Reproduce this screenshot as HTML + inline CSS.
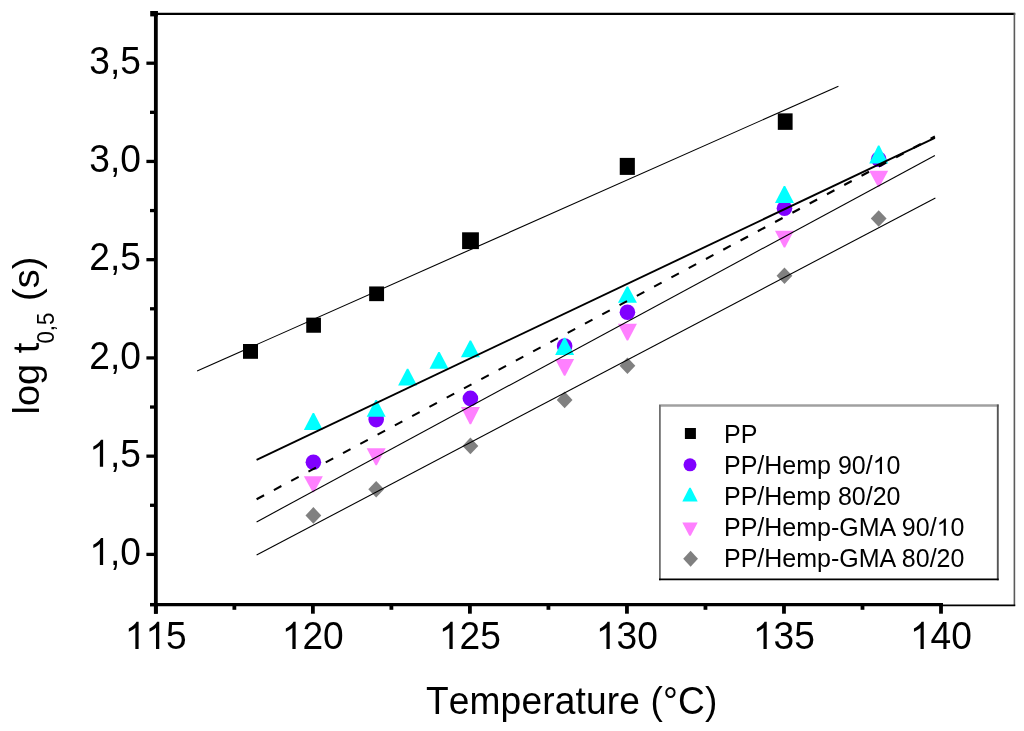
<!DOCTYPE html>
<html><head><meta charset="utf-8"><style>
html,body{margin:0;padding:0;background:#fff;}
svg{display:block;will-change:transform;}
text{font-family:"Liberation Sans",sans-serif;fill:#000;}
</style></head><body>
<svg width="1024" height="731" viewBox="0 0 1024 731">
<rect width="1024" height="731" fill="#fff"/>
<line x1="155" y1="13.8" x2="1015.2" y2="13.8" stroke="#000" stroke-width="2.2"/>
<line x1="1014.4" y1="13" x2="1014.4" y2="606" stroke="#5a5a5a" stroke-width="1.6"/>
<line x1="940" y1="605.4" x2="1015.2" y2="605.4" stroke="#000" stroke-width="1.6"/>
<line x1="155.85" y1="11" x2="155.85" y2="613.7" stroke="#000" stroke-width="3.8"/>
<line x1="150" y1="604.6" x2="943" y2="604.6" stroke="#000" stroke-width="3.4"/>
<line x1="150" y1="604.60" x2="156" y2="604.60" stroke="#000" stroke-width="3.3"/>
<line x1="146.4" y1="554.40" x2="156" y2="554.40" stroke="#000" stroke-width="3.3"/>
<line x1="150" y1="505.28" x2="156" y2="505.28" stroke="#000" stroke-width="3.3"/>
<line x1="146.4" y1="456.16" x2="156" y2="456.16" stroke="#000" stroke-width="3.3"/>
<line x1="150" y1="407.04" x2="156" y2="407.04" stroke="#000" stroke-width="3.3"/>
<line x1="146.4" y1="357.92" x2="156" y2="357.92" stroke="#000" stroke-width="3.3"/>
<line x1="150" y1="308.80" x2="156" y2="308.80" stroke="#000" stroke-width="3.3"/>
<line x1="146.4" y1="259.68" x2="156" y2="259.68" stroke="#000" stroke-width="3.3"/>
<line x1="150" y1="210.56" x2="156" y2="210.56" stroke="#000" stroke-width="3.3"/>
<line x1="146.4" y1="161.44" x2="156" y2="161.44" stroke="#000" stroke-width="3.3"/>
<line x1="150" y1="112.32" x2="156" y2="112.32" stroke="#000" stroke-width="3.3"/>
<line x1="146.4" y1="63.20" x2="156" y2="63.20" stroke="#000" stroke-width="3.3"/>
<rect x="150.2" y="11" width="7.6" height="5.4" fill="#000"/>
<line x1="155.85" y1="604" x2="155.85" y2="613.7" stroke="#000" stroke-width="3.8"/>
<line x1="234.37" y1="604" x2="234.37" y2="609.8" stroke="#000" stroke-width="3.8"/>
<line x1="312.88" y1="604" x2="312.88" y2="613.7" stroke="#000" stroke-width="3.8"/>
<line x1="391.39" y1="604" x2="391.39" y2="609.8" stroke="#000" stroke-width="3.8"/>
<line x1="469.91" y1="604" x2="469.91" y2="613.7" stroke="#000" stroke-width="3.8"/>
<line x1="548.42" y1="604" x2="548.42" y2="609.8" stroke="#000" stroke-width="3.8"/>
<line x1="626.94" y1="604" x2="626.94" y2="613.7" stroke="#000" stroke-width="3.8"/>
<line x1="705.46" y1="604" x2="705.46" y2="609.8" stroke="#000" stroke-width="3.8"/>
<line x1="783.97" y1="604" x2="783.97" y2="613.7" stroke="#000" stroke-width="3.8"/>
<line x1="862.49" y1="604" x2="862.49" y2="609.8" stroke="#000" stroke-width="3.8"/>
<line x1="941.00" y1="604" x2="941.00" y2="613.7" stroke="#000" stroke-width="3.8"/>
<text x="155.75" y="649.00" text-anchor="middle" style="font-size:39.5px;" transform="translate(155.75,649.00) scale(0.94,1.0) translate(-155.75,-649.00)" >  5</text>
<text x="312.78" y="649.00" text-anchor="middle" style="font-size:39.5px;" transform="translate(312.78,649.00) scale(0.94,1.0) translate(-312.78,-649.00)" > 20</text>
<text x="469.81" y="649.00" text-anchor="middle" style="font-size:39.5px;" transform="translate(469.81,649.00) scale(0.94,1.0) translate(-469.81,-649.00)" > 25</text>
<text x="626.84" y="649.00" text-anchor="middle" style="font-size:39.5px;" transform="translate(626.84,649.00) scale(0.94,1.0) translate(-626.84,-649.00)" > 30</text>
<text x="783.87" y="649.00" text-anchor="middle" style="font-size:39.5px;" transform="translate(783.87,649.00) scale(0.94,1.0) translate(-783.87,-649.00)" > 35</text>
<text x="940.90" y="649.00" text-anchor="middle" style="font-size:39.5px;" transform="translate(940.90,649.00) scale(0.94,1.0) translate(-940.90,-649.00)" > 40</text>
<text x="140.90" y="565.10" text-anchor="end" style="font-size:39.5px;" transform="translate(140.90,565.10) scale(0.94,1.0) translate(-140.90,-565.10)" > ,0</text>
<text x="140.90" y="466.86" text-anchor="end" style="font-size:39.5px;" transform="translate(140.90,466.86) scale(0.94,1.0) translate(-140.90,-466.86)" > ,5</text>
<text x="140.90" y="368.62" text-anchor="end" style="font-size:39.5px;" transform="translate(140.90,368.62) scale(0.94,1.0) translate(-140.90,-368.62)" >2,0</text>
<text x="140.90" y="270.38" text-anchor="end" style="font-size:39.5px;" transform="translate(140.90,270.38) scale(0.94,1.0) translate(-140.90,-270.38)" >2,5</text>
<text x="140.90" y="172.14" text-anchor="end" style="font-size:39.5px;" transform="translate(140.90,172.14) scale(0.94,1.0) translate(-140.90,-172.14)" >3,0</text>
<text x="140.90" y="73.90" text-anchor="end" style="font-size:39.5px;" transform="translate(140.90,73.90) scale(0.94,1.0) translate(-140.90,-73.90)" >3,5</text>
<rect x="243.00" y="344.00" width="15" height="14.8" fill="#000"/>
<rect x="306.25" y="317.65" width="14.7" height="15.1" fill="#000"/>
<rect x="369.15" y="286.45" width="14.9" height="14.7" fill="#000"/>
<rect x="462.10" y="232.30" width="16.8" height="16.8" fill="#000"/>
<rect x="619.75" y="157.90" width="15.1" height="17" fill="#000"/>
<rect x="777.80" y="113.35" width="14.8" height="16.5" fill="#000"/>
<circle cx="313.38" cy="462.20" r="7.8" fill="#8000ff"/>
<circle cx="376.19" cy="419.60" r="7.8" fill="#8000ff"/>
<circle cx="470.41" cy="398.40" r="7.8" fill="#8000ff"/>
<circle cx="564.63" cy="346.00" r="7.8" fill="#8000ff"/>
<circle cx="627.44" cy="312.20" r="7.8" fill="#8000ff"/>
<circle cx="784.47" cy="208.30" r="7.8" fill="#8000ff"/>
<circle cx="878.69" cy="159.20" r="7.8" fill="#8000ff"/>
<polygon points="312.68,413.00 314.08,413.00 322.88,430.00 303.88,430.00" fill="#00ffff"/>
<polygon points="375.49,399.90 376.89,399.90 385.69,416.80 366.69,416.80" fill="#00ffff"/>
<polygon points="406.90,368.70 408.30,368.70 417.10,385.60 398.10,385.60" fill="#00ffff"/>
<polygon points="438.30,351.90 439.70,351.90 448.50,368.70 429.50,368.70" fill="#00ffff"/>
<polygon points="469.71,340.60 471.11,340.60 479.91,357.20 460.91,357.20" fill="#00ffff"/>
<polygon points="563.93,337.80 565.33,337.80 574.13,355.00 555.13,355.00" fill="#00ffff"/>
<polygon points="626.74,286.40 628.14,286.40 636.94,302.80 617.94,302.80" fill="#00ffff"/>
<polygon points="783.77,185.90 785.17,185.90 793.97,203.00 774.97,203.00" fill="#00ffff"/>
<polygon points="877.99,145.50 879.39,145.50 888.19,163.60 869.19,163.60" fill="#00ffff"/>
<polygon points="303.88,476.20 322.88,476.20 314.08,492.20 312.68,492.20" fill="#ff80ff"/>
<polygon points="366.69,448.20 385.69,448.20 376.89,465.20 375.49,465.20" fill="#ff80ff"/>
<polygon points="460.91,407.00 479.91,407.00 471.11,424.20 469.71,424.20" fill="#ff80ff"/>
<polygon points="555.13,358.90 574.13,358.90 565.33,375.70 563.93,375.70" fill="#ff80ff"/>
<polygon points="617.94,323.80 636.94,323.80 628.14,340.40 626.74,340.40" fill="#ff80ff"/>
<polygon points="774.97,230.70 793.97,230.70 785.17,247.40 783.77,247.40" fill="#ff80ff"/>
<polygon points="869.19,170.80 888.19,170.80 879.39,187.00 877.99,187.00" fill="#ff80ff"/>
<polygon points="313.38,507.10 321.28,515.40 313.38,523.70 305.48,515.40" fill="#808080"/>
<polygon points="376.19,480.90 384.09,489.20 376.19,497.50 368.29,489.20" fill="#808080"/>
<polygon points="470.41,437.60 478.31,445.90 470.41,454.20 462.51,445.90" fill="#808080"/>
<polygon points="564.63,391.60 572.53,399.90 564.63,408.20 556.73,399.90" fill="#808080"/>
<polygon points="627.44,357.40 635.34,365.70 627.44,374.00 619.54,365.70" fill="#808080"/>
<polygon points="784.47,267.40 792.37,275.70 784.47,284.00 776.57,275.70" fill="#808080"/>
<polygon points="878.69,210.20 886.59,218.50 878.69,226.80 870.79,218.50" fill="#808080"/>
<line x1="197.1" y1="371" x2="838.4" y2="86.2" stroke="#000" stroke-width="1.1"/>
<line x1="256.6" y1="459.9" x2="934.9" y2="137.8" stroke="#000" stroke-width="1.9"/>
<line x1="256.6" y1="499.3" x2="934.9" y2="136.5" stroke="#000" stroke-width="2.1" stroke-dasharray="8.5 11.1"/>
<line x1="256.6" y1="521.9" x2="934.9" y2="155.4" stroke="#000" stroke-width="1.1"/>
<line x1="256.6" y1="555" x2="935.4" y2="197.9" stroke="#000" stroke-width="1.1"/>
<rect x="660" y="405.5" width="338" height="174" fill="#fff"/>
<line x1="659" y1="405.5" x2="998.7" y2="405.5" stroke="#a0a0a0" stroke-width="2.6"/>
<line x1="659.9" y1="405" x2="659.9" y2="580.3" stroke="#707070" stroke-width="1.8"/>
<line x1="997.8" y1="404.5" x2="997.8" y2="580.3" stroke="#555" stroke-width="1.9"/>
<line x1="659" y1="579.4" x2="998.7" y2="579.4" stroke="#000" stroke-width="1.7"/>
<rect x="684.90" y="428.00" width="11" height="11" fill="#000"/>
<circle cx="690.00" cy="464.80" r="6.5" fill="#8000ff"/>
<polygon points="689.30,487.80 690.70,487.80 697.70,501.40 682.30,501.40" fill="#00ffff"/>
<polygon points="682.30,522.60 697.70,522.60 690.70,535.80 689.30,535.80" fill="#ff80ff"/>
<polygon points="690.60,550.80 698.00,558.80 690.60,566.80 683.20,558.80" fill="#808080"/>
<text x="724.00" y="443.00" text-anchor="start" style="font-size:25px;" >PP</text>
<text x="724.00" y="473.90" text-anchor="start" style="font-size:25px;" >PP/Hemp 90/ 0</text>
<text x="724.00" y="504.80" text-anchor="start" style="font-size:25px;" >PP/Hemp 80/20</text>
<text x="724.00" y="535.70" text-anchor="start" style="font-size:25px;" >PP/Hemp-GMA 90/ 0</text>
<text x="724.00" y="566.60" text-anchor="start" style="font-size:25px;" >PP/Hemp-GMA 80/20</text>
<text x="425.93" y="714.00" text-anchor="start" style="font-size:39.5px;font-kerning:none;letter-spacing:0.15px" transform="translate(425.93,714.00) scale(0.94,1.0) translate(-425.93,-714.00)" >Temperature (°C)</text>
<g transform="translate(38.5,414.5) rotate(-90)"><text transform="scale(1.035,1)" style="font-size:36.7px">log t</text><text transform="translate(70.9,15) scale(0.945,1)" style="font-size:23.5px">0,5</text><text transform="translate(113.55,0) scale(1.035,1)" style="font-size:36.7px">(s)</text></g>
<path transform="translate(124.78,649.00) scale(0.018130,-0.018535)" d="M763 0L583 0L583 1147Q518 1085 412 1023Q307 961 222 929L222 1103Q373 1174 486 1275Q599 1376 646 1466L763 1466Z"/>
<path transform="translate(145.42,649.00) scale(0.018130,-0.018535)" d="M763 0L583 0L583 1147Q518 1085 412 1023Q307 961 222 929L222 1103Q373 1174 486 1275Q599 1376 646 1466L763 1466Z"/>
<path transform="translate(281.81,649.00) scale(0.018130,-0.018535)" d="M763 0L583 0L583 1147Q518 1085 412 1023Q307 961 222 929L222 1103Q373 1174 486 1275Q599 1376 646 1466L763 1466Z"/>
<path transform="translate(438.84,649.00) scale(0.018130,-0.018535)" d="M763 0L583 0L583 1147Q518 1085 412 1023Q307 961 222 929L222 1103Q373 1174 486 1275Q599 1376 646 1466L763 1466Z"/>
<path transform="translate(595.87,649.00) scale(0.018130,-0.018535)" d="M763 0L583 0L583 1147Q518 1085 412 1023Q307 961 222 929L222 1103Q373 1174 486 1275Q599 1376 646 1466L763 1466Z"/>
<path transform="translate(752.90,649.00) scale(0.018130,-0.018535)" d="M763 0L583 0L583 1147Q518 1085 412 1023Q307 961 222 929L222 1103Q373 1174 486 1275Q599 1376 646 1466L763 1466Z"/>
<path transform="translate(909.93,649.00) scale(0.018130,-0.018535)" d="M763 0L583 0L583 1147Q518 1085 412 1023Q307 961 222 929L222 1103Q373 1174 486 1275Q599 1376 646 1466L763 1466Z"/>
<path transform="translate(89.28,565.10) scale(0.018130,-0.018535)" d="M763 0L583 0L583 1147Q518 1085 412 1023Q307 961 222 929L222 1103Q373 1174 486 1275Q599 1376 646 1466L763 1466Z"/>
<path transform="translate(89.28,466.86) scale(0.018130,-0.018535)" d="M763 0L583 0L583 1147Q518 1085 412 1023Q307 961 222 929L222 1103Q373 1174 486 1275Q599 1376 646 1466L763 1466Z"/>
<path transform="translate(872.67,473.90) scale(0.012207,-0.011731)" d="M763 0L583 0L583 1147Q518 1085 412 1023Q307 961 222 929L222 1103Q373 1174 486 1275Q599 1376 646 1466L763 1466Z"/>
<path transform="translate(936.56,535.70) scale(0.012207,-0.011731)" d="M763 0L583 0L583 1147Q518 1085 412 1023Q307 961 222 929L222 1103Q373 1174 486 1275Q599 1376 646 1466L763 1466Z"/>
</svg>
</body></html>
